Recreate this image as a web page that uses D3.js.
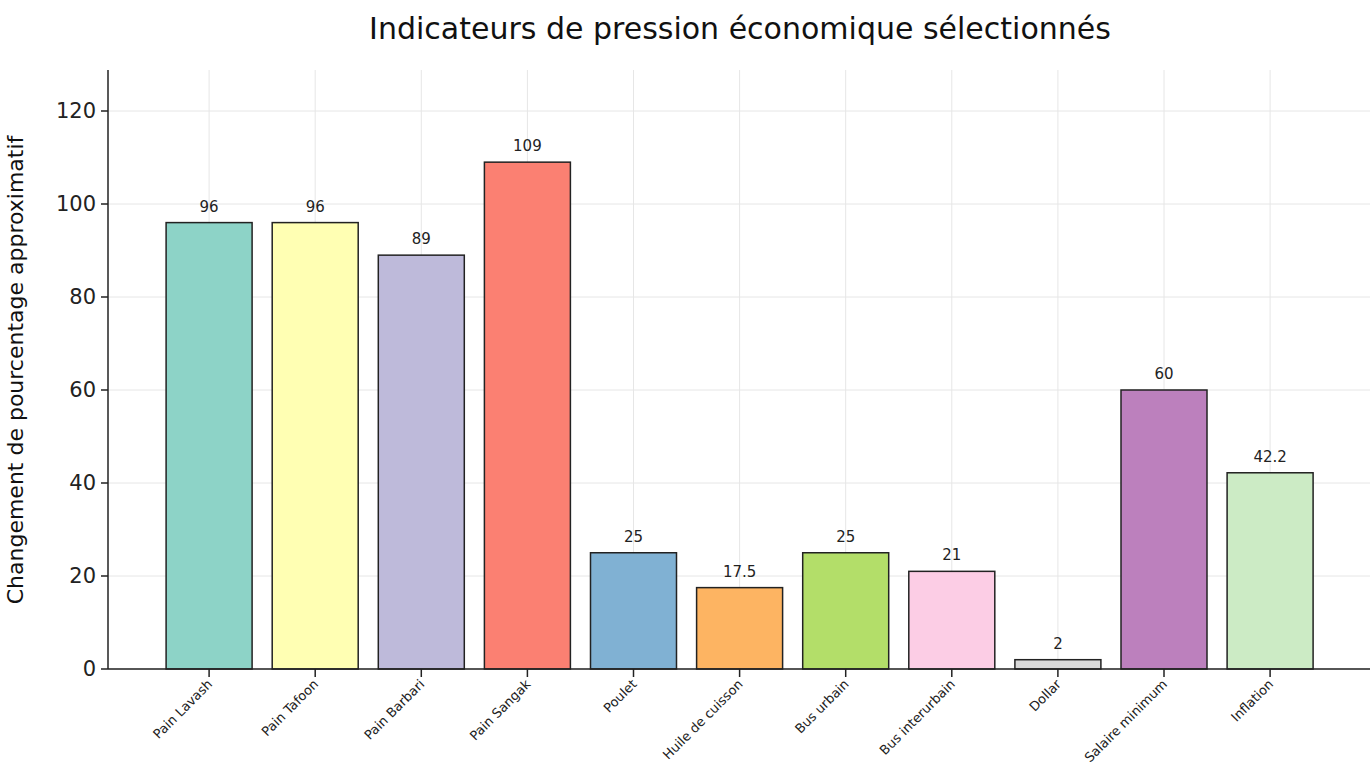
<!DOCTYPE html>
<html><head><meta charset="utf-8">
<script src="https://cdn.jsdelivr.net/npm/d3@7"></script>
<style>body{margin:0;background:#fff;font-family:"DejaVu Sans",sans-serif}</style>
</head><body><svg id="c" width="1370" height="784"></svg>
<script>
const categories = ["Pain Lavash","Pain Tafoon","Pain Barbari","Pain Sangak","Poulet","Huile de cuisson","Bus urbain","Bus interurbain","Dollar","Salaire minimum","Inflation"];
const values = [96, 96, 89, 109, 25, 17.5, 25, 21, 2, 60, 42.2];
const labels = ["96","96","89","109","25","17.5","25","21","2","60","42.2"];
const colors = ["#8dd3c7","#ffffb3","#bebada","#fb8072","#80b1d3","#fdb462","#b3de69","#fccde5","#d9d9d9","#bc80bd","#ccebc5"];
const yTicks = [0,20,40,60,80,100,120];

const svg = d3.select("#c");
const x = d3.scaleLinear().domain([-1, 11]).range([103, 1376.2]);
const y = d3.scaleLinear().domain([0, 120]).range([669, 111]);
const mLeft = 108, mTop = 70, mBottom = 669, mRight = 1370;
const bw = 86;

// grid
svg.append("g").selectAll("line").data(yTicks).join("line")
  .attr("x1", mLeft).attr("x2", mRight).attr("y1", d => y(d)).attr("y2", d => y(d))
  .attr("stroke", "#e6e6e6");
svg.append("g").selectAll("line").data(categories).join("line")
  .attr("x1", (d, i) => x(i)).attr("x2", (d, i) => x(i)).attr("y1", mTop).attr("y2", mBottom)
  .attr("stroke", "#e6e6e6");

// bars
svg.append("g").selectAll("rect").data(values).join("rect")
  .attr("x", (d, i) => x(i) - bw / 2).attr("width", bw)
  .attr("y", d => y(d)).attr("height", d => mBottom - y(d))
  .attr("fill", (d, i) => colors[i]).attr("stroke", "#222").attr("stroke-width", 1.5);

svg.append("g").selectAll("text").data(values).join("text")
  .attr("x", (d, i) => x(i)).attr("y", d => y(d) - 11)
  .attr("text-anchor", "middle").attr("font-size", 15).attr("fill", "#222")
  .text((d, i) => labels[i]);

// axes
svg.append("line").attr("x1", mLeft).attr("x2", mLeft).attr("y1", mTop).attr("y2", mBottom).attr("stroke", "#222").attr("stroke-width", 1.5);
svg.append("line").attr("x1", mLeft).attr("x2", mRight).attr("y1", mBottom).attr("y2", mBottom).attr("stroke", "#222").attr("stroke-width", 1.5);

const yg = svg.append("g").selectAll("g").data(yTicks).join("g");
yg.append("line").attr("x1", mLeft - 7).attr("x2", mLeft).attr("y1", d => y(d)).attr("y2", d => y(d)).attr("stroke", "#222").attr("stroke-width", 1.5);
yg.append("text").attr("x", mLeft - 12).attr("y", d => y(d)).attr("dy", "0.35em")
  .attr("text-anchor", "end").attr("font-size", 21).attr("fill", "#222").text(d => d);

const xg = svg.append("g").selectAll("g").data(categories).join("g");
xg.append("line").attr("x1", (d, i) => x(i)).attr("x2", (d, i) => x(i)).attr("y1", mBottom).attr("y2", mBottom + 8).attr("stroke", "#222").attr("stroke-width", 1.5);
xg.append("text")
  .attr("transform", (d, i) => `translate(${x(i) + 4},${mBottom + 16}) rotate(-45)`)
  .attr("text-anchor", "end").attr("font-size", 13).attr("fill", "#222").text(d => d);

svg.append("text").attr("x", 740).attr("y", 28).attr("dy", "0.35em").attr("text-anchor", "middle")
  .attr("font-size", 30).attr("fill", "#111").text("Indicateurs de pression économique sélectionnés");
svg.append("text").attr("transform", "translate(23,370) rotate(-90)").attr("text-anchor", "middle")
  .attr("font-size", 22).attr("fill", "#111").text("Changement de pourcentage approximatif");
</script></body></html>
